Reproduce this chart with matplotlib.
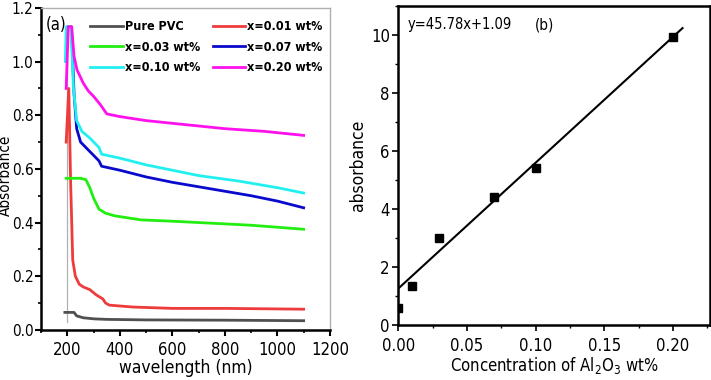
import numpy as np
import matplotlib
matplotlib.use('Agg')
import matplotlib.pyplot as plt
from matplotlib.ticker import MultipleLocator

plt.rcParams['font.family'] = ['DejaVu Sans']
plt.rcParams['font.stretch'] = 'condensed'
plt.rcParams['mathtext.fontset'] = 'custom'
plt.rcParams['mathtext.rm'] = 'DejaVu Sans:stretch=condensed'

# (a) absorbance spectra
wl_pvc = [190, 225, 235, 260, 300, 350, 500, 800, 1100]
ab_pvc = [0.065, 0.065, 0.052, 0.045, 0.041, 0.039, 0.037, 0.036, 0.034]

wl_01 = [195, 205, 212, 220, 230, 245, 260, 285, 310, 335, 345, 360, 450, 600, 800, 1000, 1100]
ab_01 = [0.70, 0.90, 0.55, 0.26, 0.20, 0.17, 0.16, 0.15, 0.13, 0.115, 0.10, 0.092, 0.085, 0.080, 0.080, 0.078, 0.077]

wl_03 = [195, 250, 270, 285, 300, 320, 345, 380, 480, 600, 700, 900, 1100]
ab_03 = [0.565, 0.565, 0.56, 0.53, 0.49, 0.45, 0.435, 0.425, 0.41, 0.405, 0.40, 0.39, 0.375]

wl_07 = [203, 215, 225, 235, 250, 275, 300, 320, 330, 400, 500, 600, 750, 900, 1000, 1100]
ab_07 = [1.13, 1.13, 0.88, 0.75, 0.70, 0.675, 0.65, 0.63, 0.61, 0.595, 0.57, 0.55, 0.525, 0.50, 0.48, 0.455]

wl_10 = [192, 195, 213, 223, 235, 255, 285, 320, 330, 400, 500, 600, 700, 850, 1000, 1100]
ab_10 = [1.0, 1.13, 1.13, 0.90, 0.78, 0.74, 0.715, 0.68, 0.655, 0.64, 0.615, 0.595, 0.575, 0.555, 0.53, 0.51]

wl_20 = [195, 203, 216, 225, 236, 260, 280, 300, 325, 350, 400, 500, 650, 800, 950, 1100]
ab_20 = [0.90, 1.13, 1.13, 1.02, 0.97, 0.92, 0.89, 0.87, 0.84, 0.805, 0.795, 0.78, 0.765, 0.75, 0.74, 0.725]

edge_wl = [200, 200]
edge_ab = [0.03, 1.13]

series = [
    ('Pure PVC', wl_pvc, ab_pvc, '#505050'),
    ('x=0.01 wt%', wl_01, ab_01, '#ee3b3b'),
    ('x=0.03 wt%', wl_03, ab_03, '#22ee11'),
    ('x=0.07 wt%', wl_07, ab_07, '#0a0acc'),
    ('x=0.10 wt%', wl_10, ab_10, '#22f0f0'),
    ('x=0.20 wt%', wl_20, ab_20, '#ff11ee'),
]

# (b) calibration
conc = [0.0, 0.01, 0.03, 0.07, 0.10, 0.20]
absorb = [0.6, 1.35, 3.0, 4.4, 5.4, 9.95]
fit_x = [0.0, 0.207]
fit_y = [1.25, 10.24]

fig = plt.figure(figsize=(7.11, 3.8), dpi=100)
ax1 = fig.add_axes([0.058, 0.132, 0.406, 0.847])
ax2 = fig.add_axes([0.560, 0.145, 0.4386, 0.839])

ax1.plot(edge_wl, edge_ab, color='#b0b0b0', lw=0.9, zorder=1)
lines = []
for name, x, y, c in series:
    lines += ax1.plot(x, y, color=c, lw=2, label=name)
ax1.set_xlim(100, 1200)
ax1.set_ylim(0, 1.2)
ax1.xaxis.set_major_locator(MultipleLocator(200))
ax1.xaxis.set_minor_locator(MultipleLocator(100))
ax1.yaxis.set_major_locator(MultipleLocator(0.2))
ax1.yaxis.set_minor_locator(MultipleLocator(0.1))
ax1.set_yticklabels(['%.1f' % v for v in ax1.get_yticks()])
ax1.tick_params(labelsize=11, width=1.5, length=4, direction='out', pad=1.5)
ax1.tick_params(axis='x', labelsize=12, pad=4)
ax1.tick_params(which='minor', width=1.2, length=2.5)
for s in ['left', 'bottom']:
    ax1.spines[s].set_linewidth(1.8)
for s in ['top', 'right']:
    ax1.spines[s].set_color('#b0b0b0')
    ax1.spines[s].set_linewidth(1)
ax1.set_xlabel('wavelength (nm)', fontsize=12.5, labelpad=0)
ax1.set_ylabel('Absorbance', fontsize=11)
ax1.yaxis.set_label_coords(-0.098, 0.48)
ax1.text(0.015, 0.975, '(a)', transform=ax1.transAxes, fontsize=12, va='top')
order = [0, 2, 4, 1, 3, 5]
ax1.legend([lines[i] for i in order], [series[i][0] for i in order],
           ncol=2, frameon=False, loc='upper right', bbox_to_anchor=(1.0, 0.985),
           prop={'weight': 'bold', 'size': 9, 'stretch': 'condensed'},
           handlelength=2.6, handletextpad=0.15, columnspacing=1.0, labelspacing=0.6,
           borderaxespad=0.2)

ax2.plot(fit_x, fit_y, color='black', lw=1.5)
ax2.plot(conc, absorb, 's', color='black', ms=6)
ax2.set_xlim(0, 0.227)
ax2.set_ylim(0, 11)
ax2.xaxis.set_major_locator(MultipleLocator(0.05))
ax2.xaxis.set_minor_locator(MultipleLocator(0.025))
ax2.yaxis.set_major_locator(MultipleLocator(2))
ax2.yaxis.set_minor_locator(MultipleLocator(1))
ax2.set_xticklabels(['%.2f' % v for v in ax2.get_xticks()])
ax2.tick_params(labelsize=12, width=1.2, length=4, direction='out', pad=2)
ax2.tick_params(axis='x', pad=5)
ax2.tick_params(which='minor', width=1, length=2.5)
for s in ax2.spines.values():
    s.set_linewidth(1.8)
ax2.set_xlabel('Concentration of Al$_2$O$_3$ wt%', fontsize=12, labelpad=0)
ax2.set_ylabel('absorbance', fontsize=12.5, labelpad=3)
ax2.text(0.03, 0.965, 'y=45.78x+1.09', transform=ax2.transAxes, fontsize=10.5, va='top')
ax2.text(0.44, 0.965, '(b)', transform=ax2.transAxes, fontsize=11, va='top')

fig.savefig('out.png', dpi=100)
